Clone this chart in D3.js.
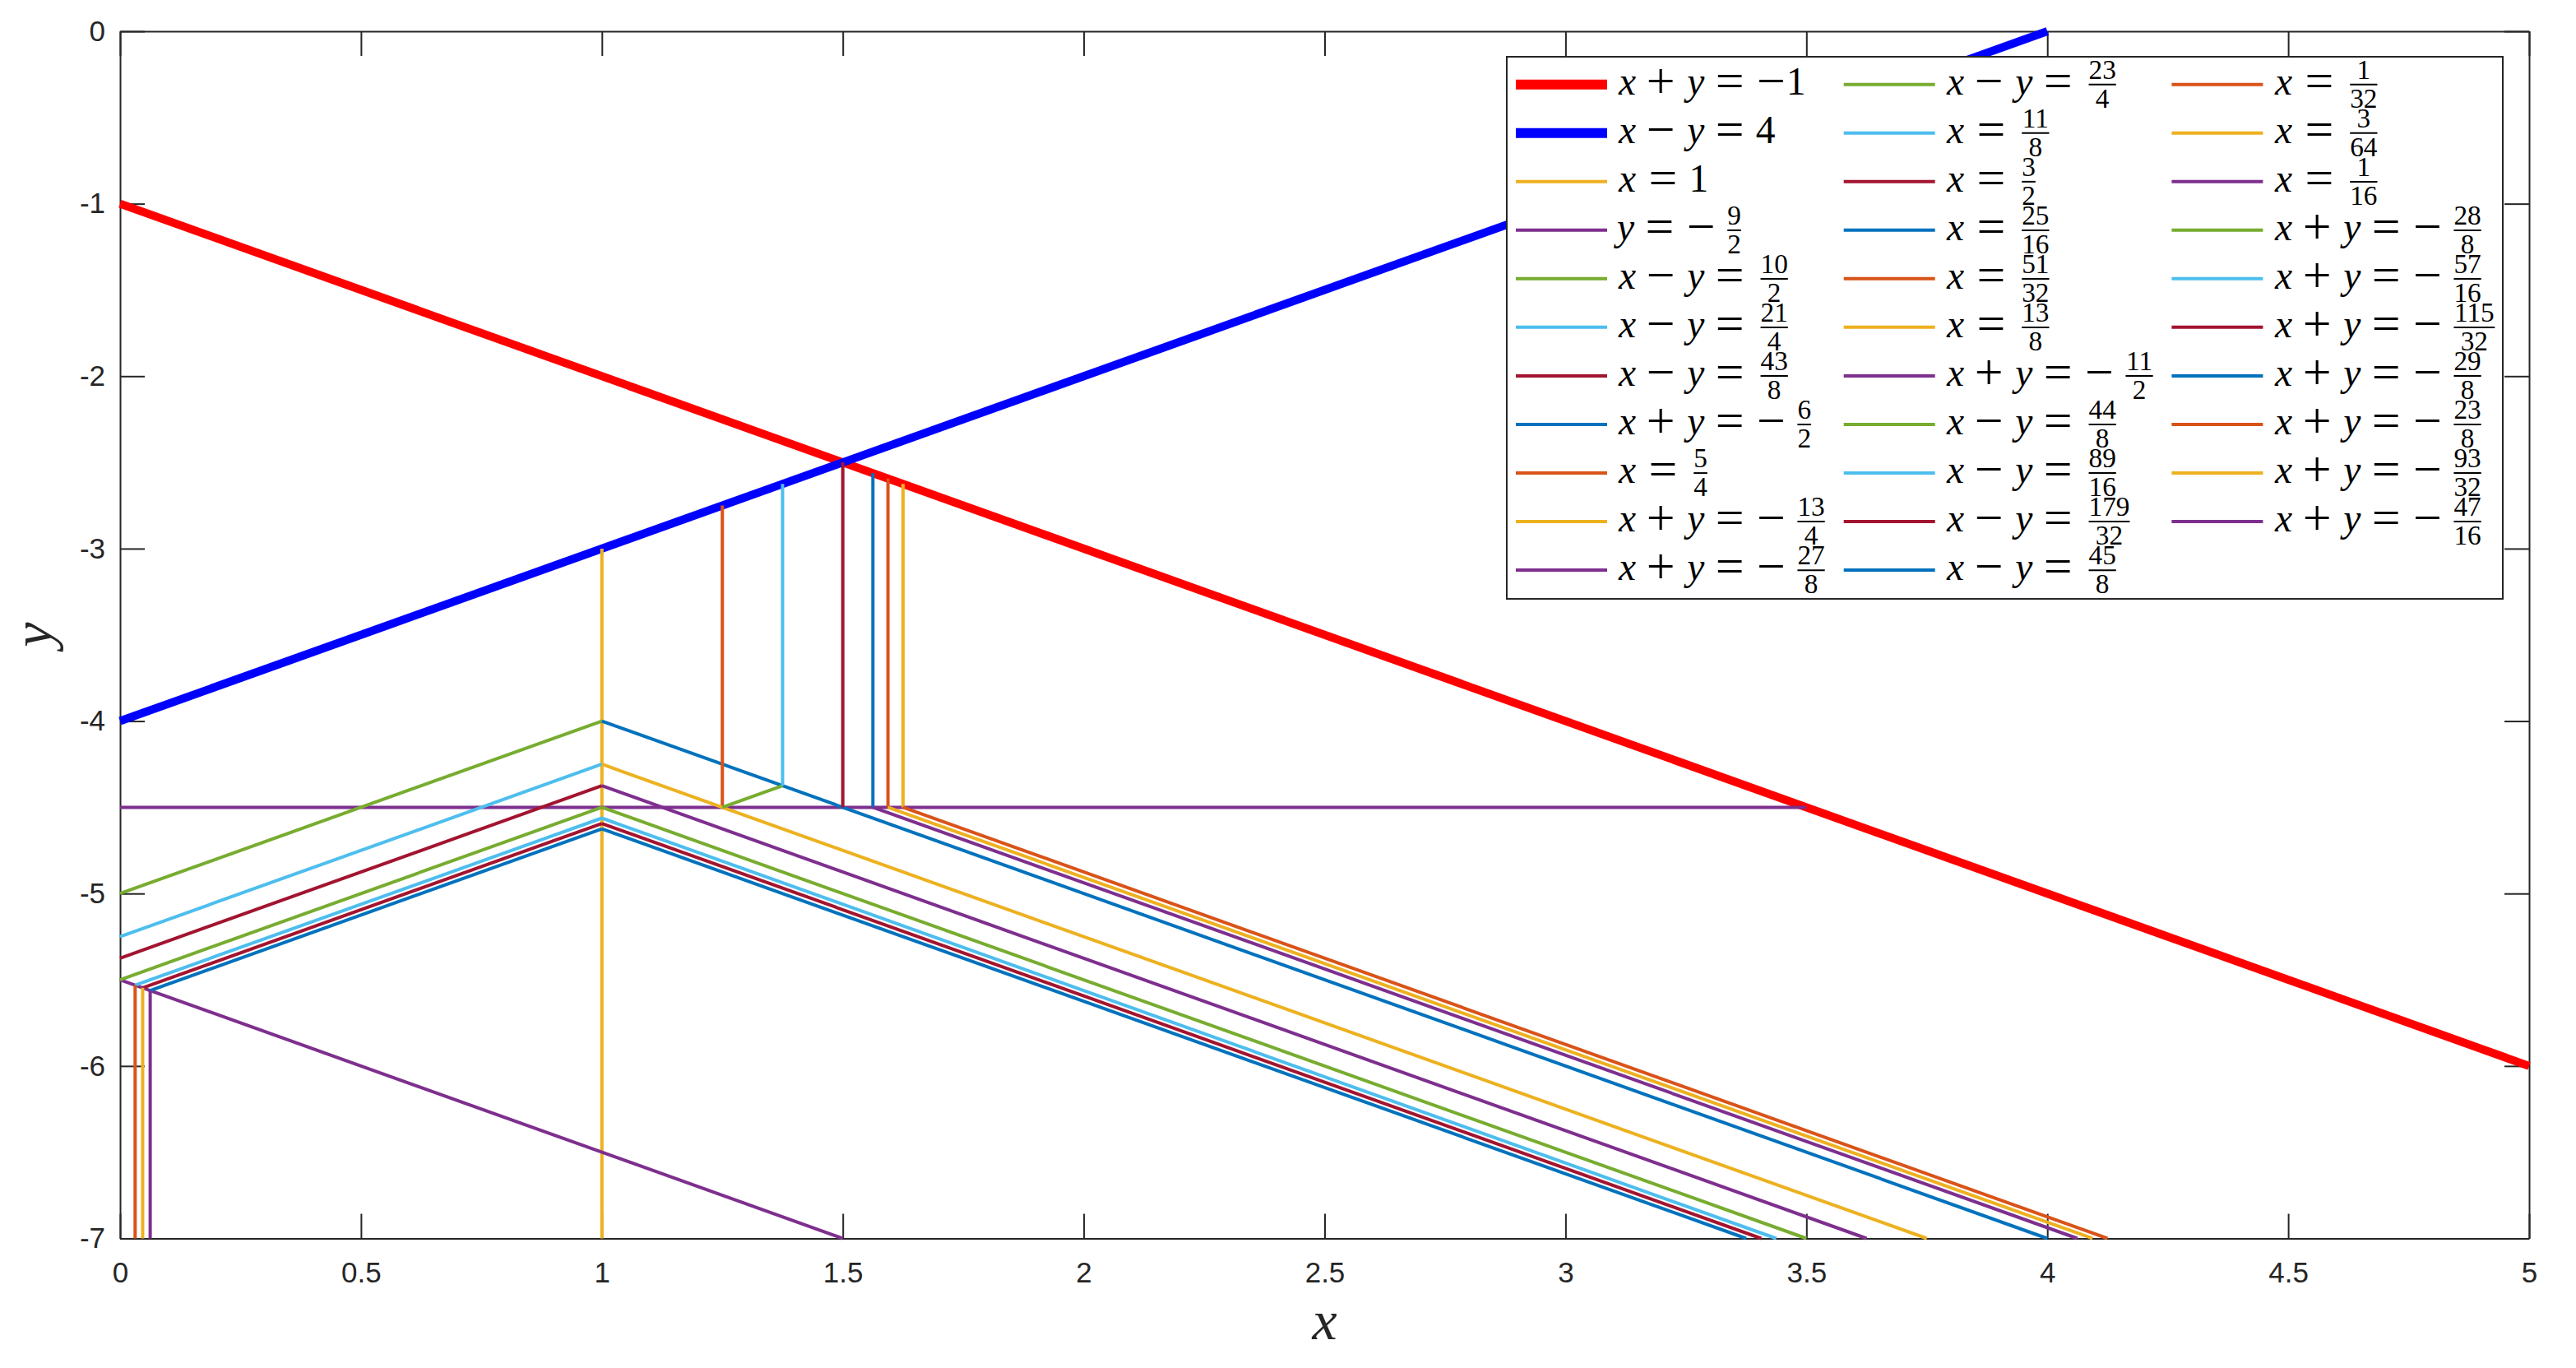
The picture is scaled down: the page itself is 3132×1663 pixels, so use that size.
<!DOCTYPE html>
<html><head><meta charset="utf-8">
<script src="https://cdn.jsdelivr.net/npm/d3@7"></script>
<style>html,body{margin:0;padding:0;background:#fff;overflow:hidden;}</style>
</head><body>
<svg id="chart" width="3132" height="1663" xmlns="http://www.w3.org/2000/svg"></svg>
<script>
// ---------------- data ----------------
// kind: "sum" => x + y = c, "diff" => x - y = c, "vx" => x = c, "hy" => y = c ; c = numerator/denominator
const lineKinds = ["sum","diff","vx","hy","diff","diff","diff","sum","vx","sum","sum",
                   "diff","vx","vx","vx","vx","vx","sum","diff","diff","diff","diff",
                   "vx","vx","vx","sum","sum","sum","sum","sum","sum","sum"];
const numerators = [-1,4,1,-9,10,21,43,-6,5,-13,-27,
                    23,11,3,25,51,13,-11,44,89,179,45,
                    1,3,1,-28,-57,-115,-29,-23,-93,-47];
const denominators = [1,1,1,2,2,4,8,2,4,4,8,
                      4,8,2,16,32,8,2,8,16,32,8,
                      32,64,16,8,16,32,8,8,32,16];
// drawn extent of each segment (x range for sloped / horizontal lines, y range for vertical lines)
const segStart = [0,0,-3,0,0,0,0,1,-4.5,1,1,
                  1.25,-4.375,-4.5,-4.5,-4.5,-4.5,0,0,0.03125,0.046875,0.0625,
                  -5.53125,-5.546875,-5.5625,1,1,1,1,1.625,1.59375,1.5625];
const segEnd   = [5,4,-7,3.5,1,1,1,4,-2.75,3.75,3.625,
                  1.375,-2.625,-2.5,-2.5625,-2.59375,-2.625,1.5,1,1,1,1,
                  -7,-7,-7,3.5,3.4375,3.40625,3.375,4.125,4.09375,4.0625];
const xTicks = [0,0.5,1,1.5,2,2.5,3,3.5,4,4.5,5];
const yTicks = [0,-1,-2,-3,-4,-5,-6,-7];

// ---------------- styles ----------------
const C = {blue:"#0072BD",orange:"#D95319",yellow:"#EDB120",purple:"#7E2F8E",green:"#77AC30",lblue:"#4DBEEE",dred:"#A2142F"};
const cycle = [C.blue,C.orange,C.yellow,C.purple,C.green,C.lblue,C.dred];
const seriesColors = lineKinds.map((k,i)=> i===0 ? "#FF0000" : i===1 ? "#0000FF" : cycle[i % 7]);
const axisColor = "#262626";

const svg = d3.select("#chart");
const x = d3.scaleLinear().domain([0,5]).range([146,3075]);
const y = d3.scaleLinear().domain([-7,0]).range([1505.5,38]);

function styleAxis(g){
  g.select(".domain").attr("stroke",axisColor).attr("stroke-width",2);
  g.selectAll(".tick line").attr("stroke",axisColor).attr("stroke-width",2);
  g.selectAll(".tick text").attr("fill",axisColor)
    .attr("font-family","'Liberation Sans', Arial, Helvetica, sans-serif").attr("font-size",35);
}
const fmt = d => String(d);
svg.append("g").attr("transform",`translate(0,${y(-7)})`)
  .call(d3.axisBottom(x).tickValues(xTicks).tickFormat(fmt).tickSizeInner(-30).tickSizeOuter(0).tickPadding(28.6))
  .call(styleAxis);
svg.append("g").attr("transform",`translate(${x(0)},0)`)
  .call(d3.axisLeft(y).tickValues(yTicks).tickFormat(fmt).tickSizeInner(-30).tickSizeOuter(0).tickPadding(18))
  .call(styleAxis);
svg.append("g").attr("transform",`translate(0,${y(0)})`)
  .call(d3.axisTop(x).tickValues(xTicks).tickFormat("").tickSizeInner(-30).tickSizeOuter(0))
  .call(styleAxis);
svg.append("g").attr("transform",`translate(${x(5)},0)`)
  .call(d3.axisRight(y).tickValues(yTicks).tickFormat("").tickSizeInner(-30).tickSizeOuter(0))
  .call(styleAxis);

// axis labels
const serif = "'Liberation Serif','Times New Roman',serif";
svg.append("text").attr("x",(x(0)+x(5))/2).attr("y",1628).attr("text-anchor","middle")
  .attr("font-family",serif).attr("font-style","italic").attr("font-size",68).attr("fill",axisColor).text("x");
svg.append("text").attr("transform",`translate(63,${(y(0)+y(-7))/2}) rotate(-90)`).attr("text-anchor","middle")
  .attr("font-family",serif).attr("font-style","italic").attr("font-size",68).attr("fill",axisColor).text("y");

// ---------------- lines ----------------
function endpoints(i){
  const c = numerators[i]/denominators[i], k = lineKinds[i];
  return [segStart[i],segEnd[i]].map(t =>
    k==="sum" ? [t, c - t] : k==="diff" ? [t, t - c] : k==="vx" ? [c, t] : [t, c]);
}
const lineGen = d3.line().x(d=>x(d[0])).y(d=>y(d[1]));
svg.append("g").selectAll("path").data(d3.range(lineKinds.length)).join("path")
  .attr("d", i => lineGen(endpoints(i)))
  .attr("fill","none")
  .attr("stroke", i => seriesColors[i])
  .attr("stroke-width", i => i < 2 ? 10 : 4)
  .attr("stroke-linecap","butt");

// ---------------- legend ----------------
const EM = 47.5, SS = 0.7;
const W = {x:0.572, y:0.49, op:0.778, dig:0.5, thin:1/6, med:2/9, thick:5/18, nd:0.12};
function tokens(i){
  const k = lineKinds[i], n = numerators[i], d = denominators[i];
  const t = [];
  if (k==="sum" || k==="diff") t.push(["var","x"],["sp",W.med],["op",k==="sum"?"+":"\u2212"],["sp",W.med],["var","y"]);
  else t.push(["var", k==="vx" ? "x" : "y"]);
  t.push(["sp",W.thick],["op","="],["sp",W.thick]);
  if (d === 1){ if (n < 0) t.push(["op","\u2212"]); t.push(["num",String(Math.abs(n))]); }
  else { if (n < 0) t.push(["op","\u2212"],["sp",W.thin]); t.push(["frac",String(Math.abs(n)),String(d)]); }
  return t;
}
const leg = svg.append("g");
leg.append("rect").attr("x",1832).attr("y",69).attr("width",3043-1832).attr("height",728-69)
  .attr("fill","#fff").attr("stroke",axisColor).attr("stroke-width",2);
const rowsPerCol = 11;
lineKinds.forEach((k,i)=>{
  const col = Math.floor(i/rowsPerCol), row = i % rowsPerCol;
  const cy = 102.7 + row*59.03;
  const sx = 1843 + col*398.7;
  const g = leg.append("g");
  g.append("line").attr("x1",sx).attr("x2",sx+111).attr("y1",cy).attr("y2",cy)
    .attr("stroke",seriesColors[i]).attr("stroke-width", i<2 ? 12 : 4);
  const base = cy + 12;
  let cx = 1963 + col*399;
  const txt = g.append("text").attr("font-family",serif).attr("font-size",EM).attr("fill","#000");
  tokens(i).forEach(tk=>{
    const type = tk[0];
    if (type==="sp"){ cx += tk[1]*EM; return; }
    if (type==="var"){
      const w = W[tk[1]]*EM;
      txt.append("tspan").attr("x",cx+w/2+2).attr("y",base).attr("text-anchor","middle")
        .attr("font-style","italic").text(tk[1]);
      cx += w; return;
    }
    if (type==="op"){
      const w = W.op*EM;
      txt.append("tspan").attr("x",cx+w/2).attr("y",base+4).attr("text-anchor","middle")
        .attr("font-size",EM*1.3).text(tk[1]);
      cx += w; return;
    }
    if (type==="num"){
      txt.append("tspan").attr("x",cx).attr("y",base).attr("text-anchor","start").text(tk[1]);
      cx += tk[1].length*W.dig*EM; return;
    }
    if (type==="frac"){
      cx += W.nd*EM;
      const bw = Math.max(tk[1].length, tk[2].length)*W.dig*SS*EM;
      const axisY = base - 0.25*EM;
      g.append("line").attr("x1",cx).attr("x2",cx+bw).attr("y1",axisY).attr("y2",axisY)
        .attr("stroke","#000").attr("stroke-width",2);
      g.append("text").attr("x",cx+bw/2).attr("y",base-0.394*EM).attr("text-anchor","middle")
        .attr("font-family",serif).attr("font-size",EM*SS).attr("fill","#000").text(tk[1]);
      g.append("text").attr("x",cx+bw/2).attr("y",base+0.345*EM).attr("text-anchor","middle")
        .attr("font-family",serif).attr("font-size",EM*SS).attr("fill","#000").text(tk[2]);
      cx += bw + W.nd*EM; return;
    }
  });
});
</script>
</body></html>
